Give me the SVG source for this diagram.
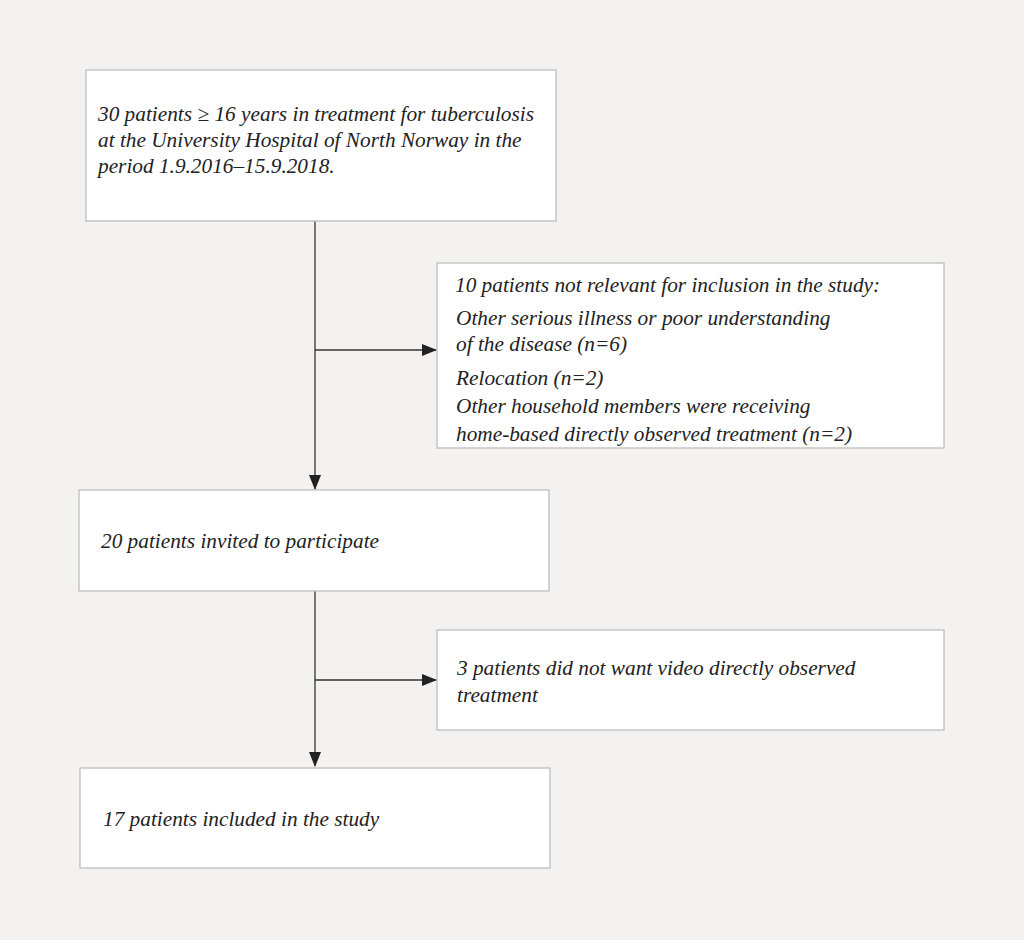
<svg xmlns="http://www.w3.org/2000/svg" width="1024" height="940" viewBox="0 0 1024 940">
<style>
.box{fill:#fff;stroke:#bdbdbd;stroke-width:1.3}
.t{font-family:"Liberation Serif",serif;font-style:italic;font-size:21.3px;fill:#222}
.c{stroke:#333;stroke-width:1.3;fill:none}
</style>
<defs>
<marker id="ah" markerWidth="15" markerHeight="12" refX="14" refY="6" orient="auto" markerUnits="userSpaceOnUse">
<path d="M0,0 L15,6 L0,12 Z" fill="#222"/>
</marker>
</defs>
<rect width="1024" height="940" fill="#f3f2f0"/>
<g id="connectors">
<path class="c" d="M315,221 V489" marker-end="url(#ah)"/>
<path class="c" d="M315,350 H436" marker-end="url(#ah)"/>
<path class="c" d="M315,591 V766" marker-end="url(#ah)"/>
<path class="c" d="M315,680 H436" marker-end="url(#ah)"/>
</g>
<g id="n1">
<rect class="box" x="86" y="70" width="470" height="151"/>
<text class="t" x="98" y="121">30 patients ≥ 16 years in treatment for tuberculosis</text>
<text class="t" x="98" y="147">at the University Hospital of North Norway in the</text>
<text class="t" x="98" y="173">period 1.9.2016–15.9.2018.</text>
</g>
<g id="n2">
<rect class="box" x="437" y="263" width="507" height="185"/>
<text class="t" x="455" y="292">10 patients not relevant for inclusion in the study:</text>
<text class="t" x="456" y="325">Other serious illness or poor understanding</text>
<text class="t" x="456" y="351">of the disease (n=6)</text>
<text class="t" x="456" y="385">Relocation (n=2)</text>
<text class="t" x="456" y="413">Other household members were receiving</text>
<text class="t" x="456" y="441">home-based directly observed treatment (n=2)</text>
</g>
<g id="n3">
<rect class="box" x="79" y="490" width="470" height="101"/>
<text class="t" x="101" y="548">20 patients invited to participate</text>
</g>
<g id="n4">
<rect class="box" x="437" y="630" width="507" height="100"/>
<text class="t" x="457" y="675">3 patients did not want video directly observed</text>
<text class="t" x="457" y="702">treatment</text>
</g>
<g id="n5">
<rect class="box" x="80" y="768" width="470" height="100"/>
<text class="t" x="103" y="826">17 patients included in the study</text>
</g>
</svg>
